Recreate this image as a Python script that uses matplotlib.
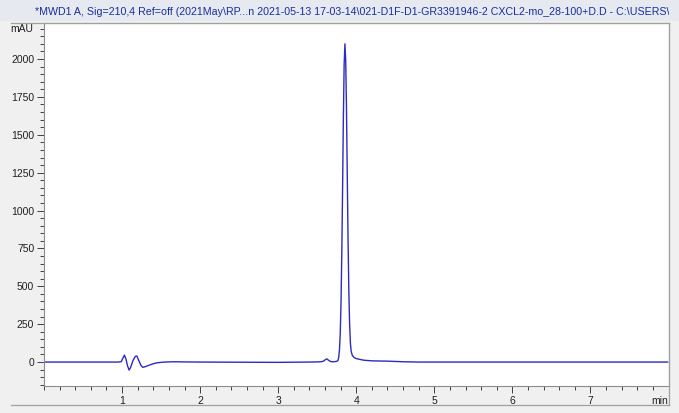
import matplotlib
matplotlib.use("Agg")
import matplotlib.pyplot as plt
from matplotlib.ticker import MultipleLocator, FixedLocator
from matplotlib.lines import Line2D

plt.rcParams['font.family'] = ['Liberation Sans', 'DejaVu Sans']

# chromatogram (time in min, signal in mAU)
time_min = [0.00, 0.95, 0.99, 1.01, 1.03, 1.05, 1.07, 1.09, 1.11, 1.14, 1.17, 1.19,
            1.21, 1.24, 1.265, 1.30, 1.35, 1.40, 1.45, 1.50, 1.55, 1.65, 1.80, 2.00,
            2.50, 3.00, 3.40, 3.50, 3.55, 3.58, 3.61, 3.625, 3.64, 3.67, 3.70, 3.73,
            3.75, 3.765, 3.775, 3.785, 3.795, 3.805, 3.815, 3.825, 3.835, 3.845, 3.855,
            3.865, 3.875, 3.885, 3.895, 3.905, 3.915, 3.925, 3.935, 3.95, 3.97, 4.00,
            4.05, 4.10, 4.20, 4.30, 4.40, 4.50, 4.60, 4.80, 5.00, 6.00, 7.00, 7.99]
signal_mau = [0, 0, 3, 25, 46, 20, -25, -53, -35, 10, 38, 40,
              15, -20, -35, -30, -20, -11, -5, -2, 0, 2, 1, 0,
              -1, -2, 0, 1, 2, 6, 18, 21, 14, 4, 2, 3,
              5, 10, 30, 80, 190, 395, 720, 1150, 1610, 1965, 2100,
              1990, 1670, 1230, 810, 470, 250, 125, 70, 44, 31, 23,
              17, 12, 8, 7, 6, 4, 2, 0, 0, 0, 0, 0]

x_ticks = [1, 2, 3, 4, 5, 6, 7]
y_ticks = [0, 250, 500, 750, 1000, 1250, 1500, 1750, 2000]
title = ("*MWD1 A, Sig=210,4 Ref=off (2021May\\RP...n 2021-05-13 17-03-14\\"
         "021-D1F-D1-GR3391946-2 CXCL2-mo_28-100+D.D - C:\\USERS\\I")

W, H = 679, 413
fig = plt.figure(figsize=(W / 100, H / 100), dpi=100, facecolor='#f0f0f0')

# title bar (light strip across the top, text clipped at the panel edge)
fig.patches.append(plt.Rectangle((0, 1 - 21 / H), 1, 21 / H, transform=fig.transFigure,
                                 facecolor='#e6e9f0', edgecolor='none', zorder=-5))
bar = fig.add_axes([0, 1 - 21 / H, 669 / W, 21 / H])
bar.set_axis_off()
bar.text(35 / 669, 0.42, title, transform=bar.transAxes, fontsize=7.7,
         color='#1a2f9a', va='center', ha='left', clip_on=True)

# panel frame (top, right, bottom)
fx = lambda px: px / W
fy = lambda py: 1 - py / H
for xs, ys in [([11, 669], [22.5, 22.5]), ([669, 669], [22.5, 405]), ([11, 669], [405, 405])]:
    fig.add_artist(Line2D([fx(v) for v in xs], [fy(v) for v in ys], color='#a0a0a0', lw=0.9))

ax = fig.add_axes([fx(44), fy(386), (668.5 - 44) / W, (386 - 22.5) / H])
ax.set_facecolor('white')
ax.plot(time_min, signal_mau, color='#2b2bc4', lw=1.0)

ax.set_xlim(0, 8)
ax.set_ylim(-158, 2241)
ax.xaxis.set_major_locator(FixedLocator(x_ticks))
ax.xaxis.set_minor_locator(MultipleLocator(0.2))
ax.yaxis.set_major_locator(FixedLocator(y_ticks))
ax.yaxis.set_minor_locator(MultipleLocator(50))
ax.tick_params(which='major', length=5, width=0.7, color='#404040', labelsize=7.5,
               pad=2, labelcolor='#202020')
ax.tick_params(which='minor', length=3, width=0.7, color='#404040')
for s in ax.spines.values():
    s.set_color('#8c8c8c')
    s.set_linewidth(0.8)

ax.text(-0.018, 2200, 'mAU', transform=ax.get_yaxis_transform(), ha='right', va='center',
        fontsize=7.5, color='#202020')
ax.text(8, -0.028, 'min', transform=ax.get_xaxis_transform(), ha='right', va='top',
        fontsize=7.5, color='#202020')

fig.savefig('out.png', dpi=100, facecolor=fig.get_facecolor())
